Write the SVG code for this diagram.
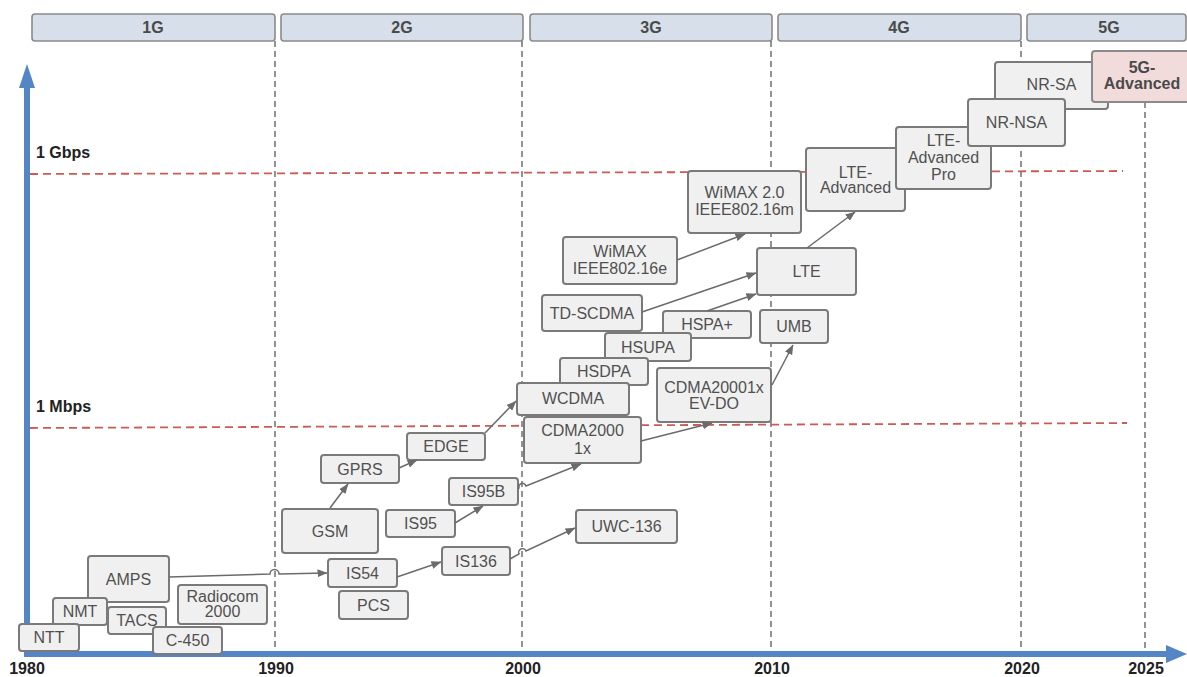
<svg xmlns="http://www.w3.org/2000/svg" width="1187" height="677" viewBox="0 0 1187 677">
<style>
.hdr{fill:#d6dfea;stroke:#8a8a8a;stroke-width:1.6}
.hdrt{font-family:"Liberation Sans",Arial,sans-serif;font-size:16px;font-weight:bold;fill:#4a4a4a;text-anchor:middle}
.vd{stroke:#5a5a5a;stroke-width:1.3;stroke-dasharray:6 4;fill:none}
.rd{stroke:#cc5a55;stroke-width:1.8;stroke-dasharray:8 5;fill:none}
.ax{stroke:#5485c5;stroke-width:6;fill:none}
.axf{fill:#5485c5}
.yr{font-family:"Liberation Sans",Arial,sans-serif;font-size:16px;font-weight:bold;fill:#222;text-anchor:middle}
.sp{font-family:"Liberation Sans",Arial,sans-serif;font-size:16px;font-weight:bold;fill:#222}
.nd{fill:#f0f0f0;stroke:#7a7a7a;stroke-width:2}
.nd5{fill:#f2dcdb;stroke:#8a8a8a;stroke-width:2}
.nt{font-family:"Liberation Sans",Arial,sans-serif;font-size:16px;fill:#505050;text-anchor:middle}
.nt5{font-family:"Liberation Sans",Arial,sans-serif;font-size:16px;font-weight:bold;fill:#4a4a4a;text-anchor:middle}
.cn{stroke:#6b6b6b;stroke-width:1.5;fill:none;marker-end:url(#ah)}
</style>
<defs>
<marker id="ah" viewBox="0 0 10 8" refX="9.5" refY="4" markerWidth="10" markerHeight="8" markerUnits="userSpaceOnUse" orient="auto">
<path d="M0,0 L10,4 L0,8 z" fill="#6b6b6b"/>
</marker>
</defs>
<rect width="1187" height="677" fill="#ffffff"/>

<g id="headers">
<rect class="hdr" x="32" y="14" width="243" height="27" rx="3"/>
<text class="hdrt" x="153" y="33">1G</text>
<rect class="hdr" x="281" y="14" width="242" height="27" rx="3"/>
<text class="hdrt" x="402" y="33">2G</text>
<rect class="hdr" x="530" y="14" width="242" height="27" rx="3"/>
<text class="hdrt" x="651" y="33">3G</text>
<rect class="hdr" x="778" y="14" width="243" height="27" rx="3"/>
<text class="hdrt" x="899" y="33">4G</text>
<rect class="hdr" x="1027" y="14" width="159" height="27" rx="3"/>
<text class="hdrt" x="1109" y="33">5G</text>
</g>

<g id="grid">
<line class="vd" x1="275" y1="41" x2="275" y2="652"/>
<line class="vd" x1="522" y1="41" x2="522" y2="652"/>
<line class="vd" x1="771" y1="41" x2="771" y2="652"/>
<line class="vd" x1="1021" y1="41" x2="1021" y2="652"/>
<line class="vd" x1="1145" y1="102" x2="1145" y2="652"/>
<path class="rd" d="M30 174 L1123 171"/>
<path class="rd" d="M30 428 L1127 423"/>
<text class="sp" x="36" y="158">1 Gbps</text>
<text class="sp" x="36" y="412">1 Mbps</text>
</g>

<g id="axes">
<line class="ax" x1="27" y1="657" x2="27" y2="84"/>
<polygon class="axf" points="27,64 19,88 35,88"/>
<line class="ax" x1="24" y1="654" x2="1168" y2="654"/>
<polygon class="axf" points="1187,654 1166,645 1166,663"/>
<text class="yr" x="27" y="674">1980</text>
<text class="yr" x="276" y="674">1990</text>
<text class="yr" x="523" y="674">2000</text>
<text class="yr" x="772" y="674">2010</text>
<text class="yr" x="1022" y="674">2020</text>
<text class="yr" x="1146" y="674">2025</text>
</g>

<g id="n-amps"><rect class="nd" x="88" y="556" width="81" height="46" rx="3"/><text class="nt" x="128.5" y="584.5">AMPS</text></g>
<g id="n-nmt"><rect class="nd" x="53" y="598" width="54" height="27" rx="3"/><text class="nt" x="80" y="617">NMT</text></g>
<g id="n-ntt"><rect class="nd" x="19" y="624" width="60" height="27" rx="3"/><text class="nt" x="49" y="643">NTT</text></g>
<g id="n-tacs"><rect class="nd" x="108" y="607" width="58" height="27" rx="3"/><text class="nt" x="137" y="626">TACS</text></g>
<g id="n-c450"><rect class="nd" x="153" y="627" width="69" height="27" rx="3"/><text class="nt" x="187.5" y="646">C-450</text></g>
<g id="n-radiocom"><rect class="nd" x="178" y="585" width="89" height="39" rx="3"/><text class="nt" x="222.5" y="602">Radiocom</text><text class="nt" x="222.5" y="617">2000</text></g>

<g id="n-gsm"><rect class="nd" x="282" y="509" width="96" height="44" rx="3"/><text class="nt" x="330" y="537">GSM</text></g>
<g id="n-gprs"><rect class="nd" x="321" y="455" width="78" height="28" rx="3"/><text class="nt" x="360" y="475">GPRS</text></g>
<g id="n-edge"><rect class="nd" x="407" y="433" width="78" height="27" rx="3"/><text class="nt" x="446" y="452">EDGE</text></g>
<g id="n-is95"><rect class="nd" x="386" y="510" width="69" height="27" rx="3"/><text class="nt" x="420.5" y="529">IS95</text></g>
<g id="n-is95b"><rect class="nd" x="449" y="478" width="69" height="27" rx="3"/><text class="nt" x="483.5" y="497">IS95B</text></g>
<g id="n-is54"><rect class="nd" x="328" y="559" width="69" height="28" rx="3"/><text class="nt" x="362.5" y="579">IS54</text></g>
<g id="n-pcs"><rect class="nd" x="339" y="591" width="69" height="28" rx="3"/><text class="nt" x="373.5" y="611">PCS</text></g>
<g id="n-is136"><rect class="nd" x="442" y="547" width="68" height="28" rx="3"/><text class="nt" x="476" y="567">IS136</text></g>
<g id="n-uwc136"><rect class="nd" x="576" y="510" width="101" height="33" rx="3"/><text class="nt" x="626.5" y="532">UWC-136</text></g>

<g id="n-hspaplus"><rect class="nd" x="663" y="311" width="88" height="27" rx="3"/><text class="nt" x="707" y="330">HSPA+</text></g>
<g id="n-hsupa"><rect class="nd" x="605" y="333" width="86" height="28" rx="3"/><text class="nt" x="648" y="353">HSUPA</text></g>
<g id="n-hsdpa"><rect class="nd" x="560" y="358" width="88" height="27" rx="3"/><text class="nt" x="604" y="377">HSDPA</text></g>
<g id="n-wcdma"><rect class="nd" x="517" y="383" width="112" height="32" rx="3"/><text class="nt" x="573" y="404">WCDMA</text></g>
<g id="n-cdma2000"><rect class="nd" x="524" y="417" width="117" height="46" rx="3"/><text class="nt" x="582.5" y="436">CDMA2000</text><text class="nt" x="582.5" y="454">1x</text></g>
<g id="n-tdscdma"><rect class="nd" x="542" y="295" width="100" height="36" rx="3"/><text class="nt" x="592" y="319">TD-SCDMA</text></g>
<g id="n-wimax"><rect class="nd" x="563" y="237" width="114" height="47" rx="3"/><text class="nt" x="620" y="257">WiMAX</text><text class="nt" x="620" y="274">IEEE802.16e</text></g>
<g id="n-evdo"><rect class="nd" x="657" y="368" width="114" height="54" rx="3"/><text class="nt" x="714" y="393">CDMA20001x</text><text class="nt" x="714" y="409">EV-DO</text></g>
<g id="n-wimax2"><rect class="nd" x="688" y="171" width="113" height="62" rx="3"/><text class="nt" x="744.5" y="198">WiMAX 2.0</text><text class="nt" x="744.5" y="215">IEEE802.16m</text></g>
<g id="n-lte"><rect class="nd" x="757" y="248" width="99" height="47" rx="3"/><text class="nt" x="806.5" y="277">LTE</text></g>
<g id="n-umb"><rect class="nd" x="760" y="310" width="68" height="33" rx="3"/><text class="nt" x="794" y="332">UMB</text></g>

<g id="n-lteadv"><rect class="nd" x="806" y="148" width="99" height="63" rx="3"/><text class="nt" x="855.5" y="178">LTE-</text><text class="nt" x="855.5" y="193">Advanced</text></g>
<g id="n-lteadvpro"><rect class="nd" x="896" y="127" width="95" height="62" rx="3"/><text class="nt" x="943.5" y="146">LTE-</text><text class="nt" x="943.5" y="163">Advanced</text><text class="nt" x="943.5" y="180">Pro</text></g>
<g id="n-nrsa"><rect class="nd" x="995" y="62" width="113" height="47" rx="3"/><text class="nt" x="1051.5" y="90">NR-SA</text></g>
<g id="n-nrnsa"><rect class="nd" x="968" y="99" width="97" height="47" rx="3"/><text class="nt" x="1016.5" y="128">NR-NSA</text></g>
<g id="n-5gadv"><rect class="nd5" x="1092" y="51" width="100" height="51" rx="3"/><text class="nt5" x="1142" y="73">5G-</text><text class="nt5" x="1142" y="89">Advanced</text></g>

<g id="connectors">
<path class="cn" d="M169 577 L270 574 A4 4 0 0 1 279 574 L327 573"/>
<path class="cn" d="M397 577 L441 562"/>
<path class="cn" d="M510 559 L519 554 A3.5 3.5 0 0 1 526 551 L575 528"/>
<path class="cn" d="M330 508 L348 484"/>
<path class="cn" d="M399 468 L417 460"/>
<path class="cn" d="M455 523 L483 506"/>
<path class="cn" d="M518 489 L519 488 A3.5 3.5 0 0 1 526 486 L581 464"/>
<path class="cn" d="M485 433 L516 401"/>
<path class="cn" d="M641 441 L712 423"/>
<path class="cn" d="M677 260 L745 234"/>
<path class="cn" d="M642 312 L756 273"/>
<path class="cn" d="M707 311 L756 294"/>
<path class="cn" d="M807 248 L855 212"/>
<path class="cn" d="M772 385 L793 345"/>
</g>
</svg>
